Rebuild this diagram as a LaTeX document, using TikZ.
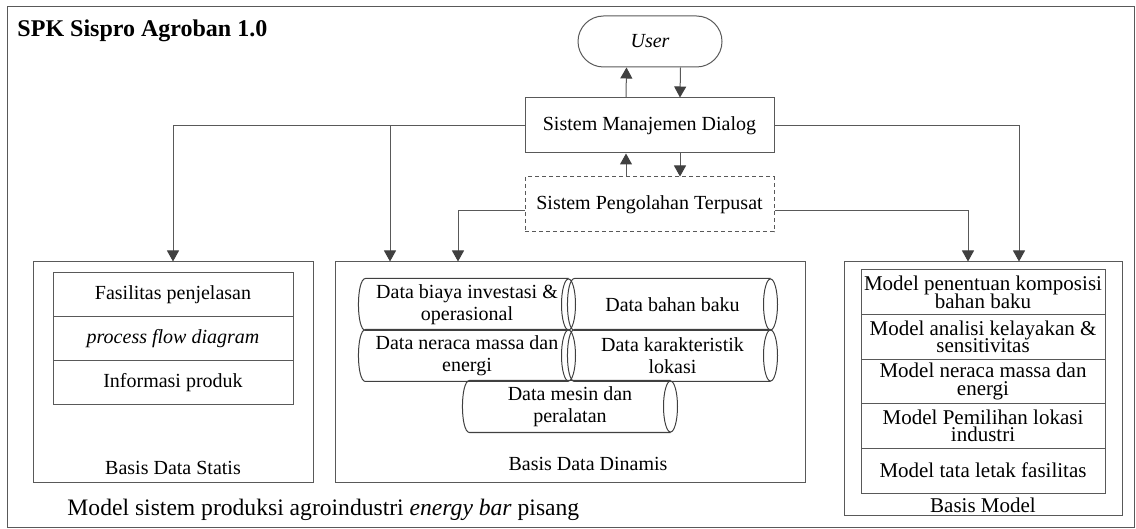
\documentclass[tikz,border=0pt]{standalone}
\usepackage{fontspec}
\setmainfont{Liberation Serif}
\usepackage{tikz}
\usetikzlibrary{arrows.meta}
\usetikzlibrary{shapes.misc}
\definecolor{garis}{gray}{0.35}
\definecolor{panah}{gray}{0.25}
% dua baris teks, rata tengah
\newcommand{\duabaris}[3][10.85pt]{\vbox{\baselineskip=#1\lineskiplimit=-20pt\lineskip=0pt\halign{\hfil##\hfil\cr#2\cr#3\cr}}}

\begin{document}
\begin{tikzpicture}[x=0.5pt,y=-0.5pt,line width=0.5pt,
    kotak/.style={draw=garis,rectangle,inner sep=0pt,font=\fontsize{10}{12}\selectfont},
    baris/.style={kotak,minimum width=122pt,minimum height=22.3pt,font=\fontsize{10.5}{12}\selectfont},
    tabung/.style={rectangle,inner sep=0pt,minimum height=25.5pt,font=\fontsize{10}{12}\selectfont},
    panahan/.style={draw=garis,-{Triangle[width=6pt,length=5.5pt,color=panah]}}]

\useasboundingbox (0,0) rectangle (1136,529);
\draw[garis] (7,7) rectangle (1134,527);

\node[anchor=base west,inner sep=0pt,font=\bfseries\fontsize{12}{14}\selectfont] (judul) at (17,37) {SPK Sispro Agroban 1.0};
\node[anchor=base west,inner sep=0pt,font=\fontsize{11.8}{14}\selectfont] (keterangan) at (67,515) {Model sistem produksi agroindustri \textit{energy bar} pisang};

% user dan sistem
\node[kotak,shape=rounded rectangle,minimum width=72pt,minimum height=25.5pt,font=\itshape\fontsize{10}{12}\selectfont] (user) at (650,41.5) {User};
\node[kotak,minimum width=124.5pt,minimum height=27.5pt] (smd) at (649.5,125.5) {Sistem Manajemen Dialog};
\node[kotak,dash pattern=on 2pt off 1.5pt,minimum width=124.5pt,minimum height=27.5pt] (spt) at (649.5,204.5) {Sistem Pengolahan Terpusat};

% basis data statis
\node[kotak,minimum width=140pt,minimum height=110pt] (bds) at (173,372) {};
\node[kotak,minimum width=120pt,minimum height=22.17pt] (bds1) at (173,294.2) {Fasilitas penjelasan};
\node[kotak,minimum width=120pt,minimum height=22.17pt] (bds2) at (173,338.5) {\textit{process flow diagram}};
\node[kotak,minimum width=120pt,minimum height=22.17pt] (bds3) at (173,382.8) {Informasi produk};
\node[font=\fontsize{10}{12}\selectfont] (bdsnama) at (173,468) {Basis Data Statis};

% basis data dinamis
\node[kotak,minimum width=235pt,minimum height=110pt] (bdd) at (570,372) {};
\node[tabung,minimum width=101pt] (biaya) at (467,304.5) {\duabaris{Data biaya investasi \&}{operasional}};
\node[tabung,minimum width=97.5pt] (bahan) at (672.5,304.5) {Data bahan baku};
\node[tabung,minimum width=101pt] (neraca) at (467,355.5) {\duabaris{Data neraca massa dan}{energi}};
\node[tabung,minimum width=97.5pt] (lokasi) at (672.5,355.5) {\duabaris{Data karakteristik}{lokasi}};
\node[tabung,minimum width=100pt] (mesin) at (570,406.5) {\duabaris{Data mesin dan}{peralatan}};
\foreach \nama in {biaya,bahan,neraca,lokasi,mesin} {
  \draw[black!75] (\nama.north east) -- (\nama.north west) .. controls +(-4.7pt,0) and +(-4.7pt,0) .. (\nama.south west) -- (\nama.south east);
  \draw[black!75] (\nama.east) ellipse [x radius=3.5pt,y radius=12.75pt];
}
\node[font=\fontsize{10}{12}\selectfont] (bddnama) at (588,464) {Basis Data Dinamis};

% basis model
\node[kotak,minimum width=139pt,minimum height=126.5pt] (bm) at (983,388.5) {};
\node[baris] (bm1) at (983,292.3) {\duabaris[8.6pt]{Model penentuan komposisi}{bahan baku}};
\node[baris] (bm2) at (983,336.9) {\duabaris[8.6pt]{Model analisi kelayakan \&}{sensitivitas}};
\node[baris] (bm3) at (983,381.5) {\duabaris[8.6pt]{Model neraca massa dan}{energi}};
\node[baris] (bm4) at (983,426.1) {\duabaris[8.6pt]{Model Pemilihan lokasi}{industri}};
\node[baris] (bm5) at (983,470.7) {Model tata letak fasilitas};
\node[font=\fontsize{10.5}{12}\selectfont] (bmnama) at (983,505) {Basis Model};

% panah
\draw[panahan] ([xshift=-11.75pt]smd.north) -- ([xshift=-11.75pt]user.south);
\draw[panahan] ([xshift=15.25pt]user.south) -- ([xshift=15.25pt]smd.north);
\draw[panahan] ([xshift=-11.75pt]spt.north) -- ([xshift=-11.75pt]smd.south);
\draw[panahan] ([xshift=15.25pt]smd.south) -- ([xshift=15.25pt]spt.north);
\draw[panahan] (smd.west) -| (bds.north);
\draw[panahan] (smd.west) -| ([xshift=-90pt]bdd.north);
\draw[panahan] (smd.east) -| ([xshift=18pt]bm.north);
\draw[panahan] ([yshift=-3.25pt]spt.west) -| ([xshift=-56pt]bdd.north);
\draw[panahan] ([yshift=-3.25pt]spt.east) -| ([xshift=-7.5pt]bm.north);

\end{tikzpicture}
\end{document}
